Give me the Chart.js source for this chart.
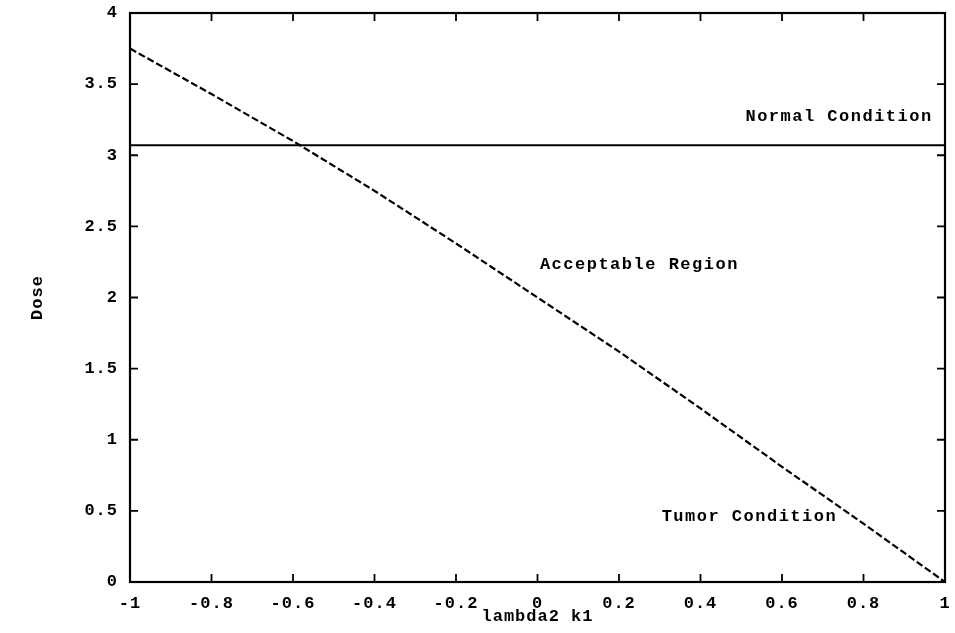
<!DOCTYPE html>
<html>
  <head>
    <title>Dose vs lambda2 k1</title>
    <style>
      body { margin: 0; background: #fff; }
      .chart-container { position: relative; width: 955px; height: 633px; }
    </style>
  </head>
  <body>
    <div class="chart-container">
      <canvas id="dose-chart" width="955" height="633"></canvas>
    </div>

    <script src="https://cdn.jsdelivr.net/npm/chart.js"></script>
    <script>
      // Data
      var xTicks = [-1, -0.8, -0.6, -0.4, -0.2, 0, 0.2, 0.4, 0.6, 0.8, 1]
      var yTicks = [0, 0.5, 1, 1.5, 2, 2.5, 3, 3.5, 4]
      var tumorLineX = [-1, -0.8, -0.6, -0.4, -0.2, 0, 0.2, 0.4, 0.6, 0.8, 1]
      var tumorLineY = [3.75, 3.43, 3.1, 2.75, 2.38, 2.0, 1.62, 1.22, 0.81, 0.41, 0]
      var normalLineX = [-1, 1]
      var normalLineY = [3.07, 3.07]
      var labelTexts = ["Normal Condition", "Acceptable Region", "Tumor Condition"]
      var labelX = [0.74, 0.25, 0.52]
      var labelY = [3.27, 2.23, 0.46]

      var FONT = "'Liberation Mono', 'DejaVu Sans Mono', monospace"

      function toPoints(xs, ys) {
        return xs.map(function (x, i) { return { x: x, y: ys[i] } })
      }

      // wide typewriter look: canvas state is reset on resize, so set it before each pass
      var spacingPlugin = {
        id: "spacing",
        beforeLayout: function (chart) { chart.ctx.letterSpacing = "1px" },
        beforeDraw: function (chart) { chart.ctx.letterSpacing = "1px" },
      }

      // draws the frame, inward ticks on all four sides and the region labels
      var framePlugin = {
        id: "frame",
        afterDraw: function (chart) {
          var ctx = chart.ctx
          var a = chart.chartArea
          var xs = chart.scales.x
          var ys = chart.scales.y
          ctx.save()
          ctx.strokeStyle = "#000"
          ctx.lineWidth = 2.2
          ctx.strokeRect(a.left, a.top, a.right - a.left, a.bottom - a.top)
          ctx.lineWidth = 1.8
          ctx.beginPath()
          xTicks.forEach(function (v) {
            var px = xs.getPixelForValue(v)
            ctx.moveTo(px, a.bottom); ctx.lineTo(px, a.bottom - 8)
            ctx.moveTo(px, a.top); ctx.lineTo(px, a.top + 8)
          })
          yTicks.forEach(function (v) {
            var py = ys.getPixelForValue(v)
            ctx.moveTo(a.left, py); ctx.lineTo(a.left + 8, py)
            ctx.moveTo(a.right, py); ctx.lineTo(a.right - 8, py)
          })
          ctx.stroke()

          ctx.fillStyle = "#000"
          ctx.letterSpacing = "1.5px"
          ctx.font = "bold 17px " + FONT
          ctx.textAlign = "center"
          ctx.textBaseline = "middle"
          labelTexts.forEach(function (t, i) {
            ctx.fillText(t, xs.getPixelForValue(labelX[i]), ys.getPixelForValue(labelY[i]))
          })
          ctx.restore()
        },
      }

      var tickFont = { family: FONT, size: 17, weight: "bold" }

      var config = {
        type: "scatter",
        data: {
          datasets: [
            {
              label: "Tumor Condition",
              data: toPoints(tumorLineX, tumorLineY),
              showLine: true,
              borderColor: "#000",
              borderWidth: 2.2,
              borderDash: [7, 3],
              pointRadius: 0,
            },
            {
              label: "Normal Condition",
              data: toPoints(normalLineX, normalLineY),
              showLine: true,
              borderColor: "#000",
              borderWidth: 2,
              pointRadius: 0,
            },
          ],
        },
        options: {
          responsive: false,
          animation: false,
          layout: { padding: { left: 28, right: 10, top: 13, bottom: 6 } },
          plugins: {
            legend: { display: false },
            tooltip: { enabled: false },
          },
          scales: {
            x: {
              type: "linear",
              min: -1,
              max: 1,
              afterBuildTicks: function (scale) {
                scale.ticks = xTicks.map(function (v) { return { value: v } })
              },
              afterFit: function (scale) {
                scale.height = 45
                scale.paddingLeft = 0
                scale.paddingRight = 0
              },
              grid: { display: false, drawTicks: false },
              border: { display: false },
              ticks: {
                color: "#000",
                padding: 12,
                maxRotation: 0,
                font: tickFont,
                callback: function (v) { return String(v) },
              },
              title: {
                display: true,
                text: "lambda2 k1",
                color: "#000",
                padding: { top: 0, bottom: 0 },
                font: tickFont,
              },
            },
            y: {
              type: "linear",
              min: 0,
              max: 4,
              afterBuildTicks: function (scale) {
                scale.ticks = yTicks.map(function (v) { return { value: v } })
              },
              afterFit: function (scale) {
                scale.width = 102
                scale.paddingTop = 0
                scale.paddingBottom = 0
              },
              grid: { display: false, drawTicks: false },
              border: { display: false },
              ticks: {
                color: "#000",
                padding: 12,
                font: tickFont,
                callback: function (v) { return String(v) },
              },
              title: {
                display: true,
                text: "Dose",
                color: "#000",
                padding: { top: 0, bottom: 0 },
                font: tickFont,
              },
            },
          },
        },
        plugins: [spacingPlugin, framePlugin],
      }

      var ctx = document.getElementById("dose-chart").getContext("2d")
      new Chart(ctx, config)
    </script>
  </body>
</html>
